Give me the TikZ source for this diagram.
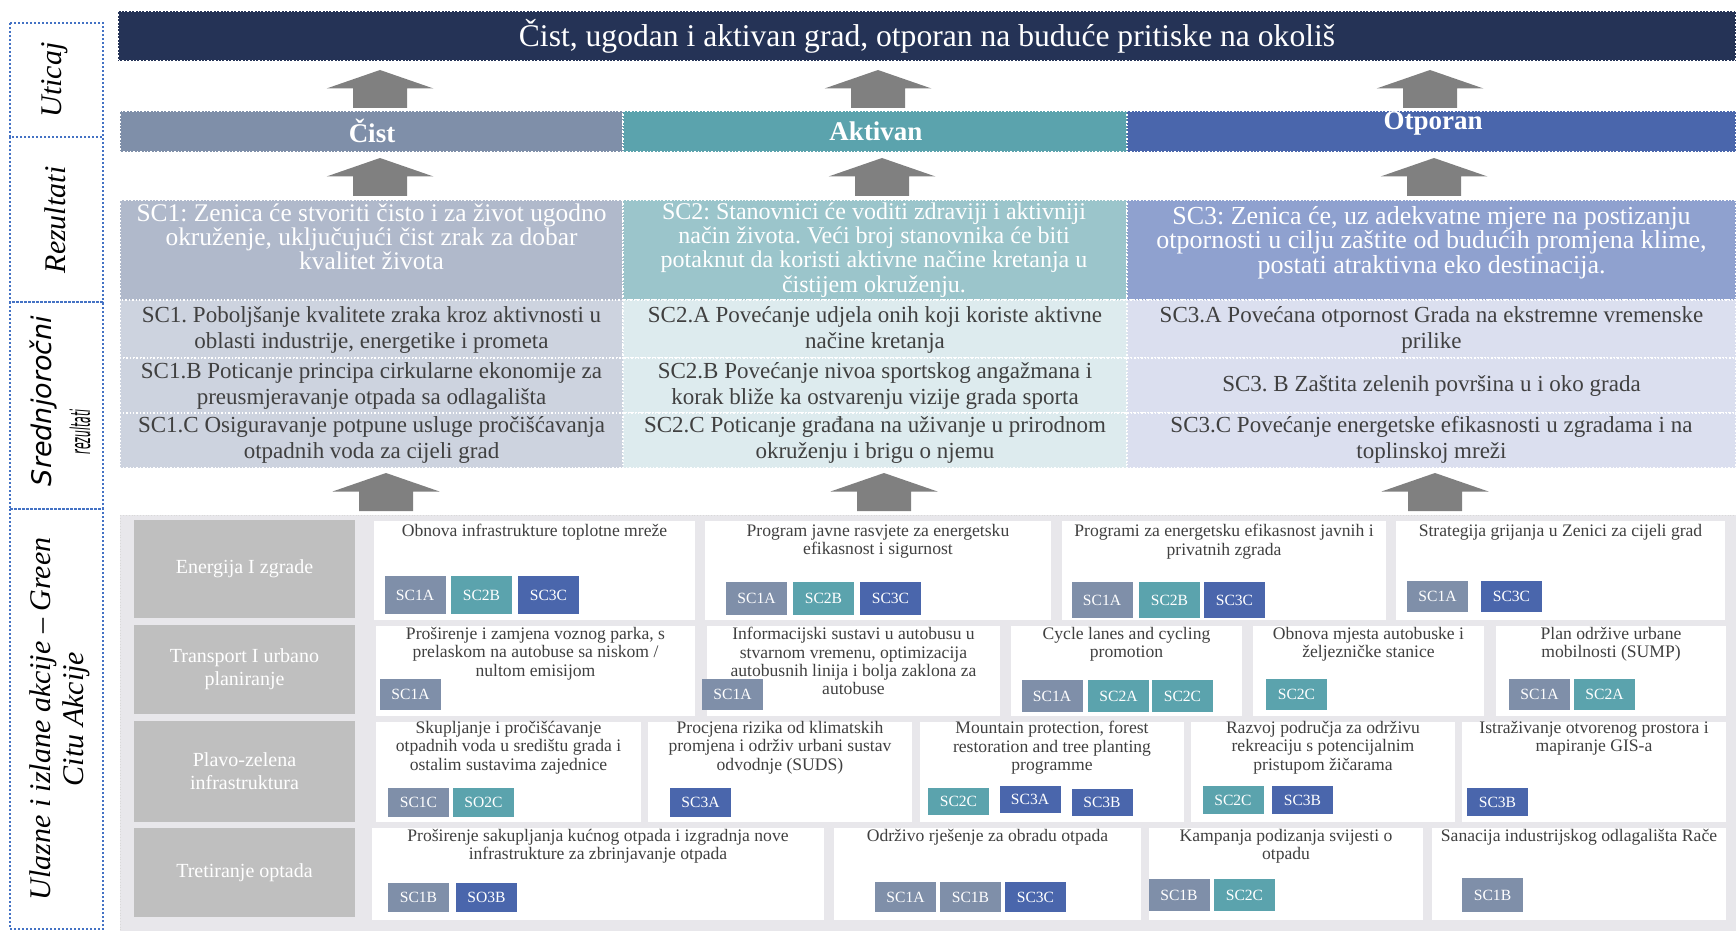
\documentclass[tikz,border=0pt]{standalone}
\usepackage{fontspec}
\setmainfont{Liberation Serif}
\newfontfamily\vsans{DejaVu Sans}
\usetikzlibrary{positioning}
\frenchspacing

\definecolor{navy}{HTML}{253356}
\definecolor{cslate}{HTML}{7F8FA9}
\definecolor{cteal}{HTML}{5BA3AD}
\definecolor{cblue}{HTML}{4A66AC}
\definecolor{gslate}{HTML}{B0B9CB}
\definecolor{gteal}{HTML}{9BC5CB}
\definecolor{gblue}{HTML}{8FA1CF}
\definecolor{mslate}{HTML}{CDD3DF}
\definecolor{mteal}{HTML}{DDEBEE}
\definecolor{mblue}{HTML}{DBDFEF}
\definecolor{arrgrey}{HTML}{808080}
\definecolor{actbg}{HTML}{E8E7EB}
\definecolor{catgrey}{HTML}{BFBFBF}
\definecolor{txtgrey}{HTML}{404040}
\definecolor{dotblue}{HTML}{4472C4}

\begin{document}
\frenchspacing
\begin{tikzpicture}[x=0.5pt,y=-0.5pt,
  barline/.style={draw=white,densely dotted,line width=0.7pt},
  sidebox/.style={draw=dotblue,densely dotted,line width=1pt},
  sidelab/.style={rotate=90,align=center,font=\fontsize{15}{16.5}\selectfont\itshape},
  hdr/.style={text=white,font=\bfseries\fontsize{13.5}{15}\selectfont},
  goaltext/.style={anchor=north,align=center,inner sep=0pt,text=white},
  midtext/.style={align=center,inner sep=0pt,text=txtgrey,font=\fontsize{11.5}{13.3}\selectfont},
  catbox/.style={fill=catgrey,text=white,align=center,inner sep=0pt,minimum width=110.5pt,font=\fontsize{10}{11.6}\selectfont},
  cardbox/.style={fill=white},
  acttext/.style={anchor=north,align=center,inner sep=0pt,text=txtgrey,font=\fontsize{8.8}{9.15}\selectfont},
  tagbox/.style={minimum width=30.5pt,minimum height=16pt,inner sep=0pt,text=white,font=\fontsize{7.8}{8}\selectfont}]
\useasboundingbox (0,0) rectangle (1736,931);

% side column
\path[sidebox] (10,23) rectangle (103,137);
\path[sidebox] (10,137) rectangle (103,302);
\path[sidebox] (10,302) rectangle (103,509);
\path[sidebox] (10,509) rectangle (103,929);
\node[sidelab] (uticaj) at (55,80) {Uticaj};
\node[sidelab] (rezult) at (55,220) {Rezultati};
\node[rotate=90,font=\vsans\itshape\fontsize{13.5}{15}\selectfont] (srednj) at (44,401) {Srednjoročni};
\node[rotate=90,xscale=0.4,font=\vsans\itshape\fontsize{13.5}{15}\selectfont] (srednj2) at (80,432) {rezultati};
\node[sidelab] (ulazne) at (60,719) {Ulazne i izlane akcije – Green\\Citu Akcije};

% impact
\path[fill=navy,barline] (118,11) rectangle (1736,61);
\node[text=white,font=\fontsize{15.8}{18}\selectfont] (title) at (927,36) {Čist, ugodan i aktivan grad, otporan na buduće pritiske na okoliš};

% arrows
\foreach \ax/\ay in {380/70,878/70,1430/70,380/158,882/158,1434/158,386/473,884/473,1435/473}
  \fill[arrgrey] (\ax,\ay) -- (\ax+53.5,\ay+18.5) -- (\ax+27,\ay+18.5) -- (\ax+27,\ay+38)
    -- (\ax-27,\ay+38) -- (\ax-27,\ay+18.5) -- (\ax-53.5,\ay+18.5) -- cycle;

% headers
\path[fill=cslate,barline] (120,111) rectangle (623,152);
\path[fill=cteal,barline] (623,111) rectangle (1127,152);
\path[fill=cblue,barline] (1127,111) rectangle (1736,152);
\node[hdr] (cist) at (372,131) {Čist};
\node[hdr] (aktivan) at (876,131) {Aktivan};
\node[hdr] (otporan) at (1433,123) {Otporan};

% results
\path[fill=gslate,barline] (120,200) rectangle (623,300);
\path[fill=gteal,barline] (623,200) rectangle (1127,300);
\path[fill=gblue,barline] (1127,200) rectangle (1736,300);
\node[goaltext,font=\fontsize{12.7}{12.2}\selectfont] (sc1) at (371.5,203) {SC1: Zenica će stvoriti čisto i za život ugodno\\okruženje, uključujući čist zrak za dobar\\kvalitet života};
\node[goaltext,font=\fontsize{12}{12.2}\selectfont] (sc2) at (874,202) {SC2: Stanovnici će voditi zdraviji i aktivniji\\način života. Veći broj stanovnika će biti\\potaknut da koristi aktivne načine kretanja u\\čistijem okruženju.};
\node[goaltext,font=\fontsize{13}{12.2}\selectfont] (sc3) at (1431.5,206) {SC3: Zenica će, uz adekvatne mjere na postizanju\\otpornosti u cilju zaštite od budućih promjena klime,\\postati atraktivna eko destinacija.};

% medium term results
\path[fill=mslate,barline] (120,300) rectangle (623,358);
\path[fill=mslate,barline] (120,358) rectangle (623,413);
\path[fill=mslate,barline] (120,413) rectangle (623,468);
\path[fill=mteal,barline] (623,300) rectangle (1127,358);
\path[fill=mteal,barline] (623,358) rectangle (1127,413);
\path[fill=mteal,barline] (623,413) rectangle (1127,468);
\path[fill=mblue,barline] (1127,300) rectangle (1736,358);
\path[fill=mblue,barline] (1127,358) rectangle (1736,413);
\path[fill=mblue,barline] (1127,413) rectangle (1736,468);
\node[midtext] (sc1a) at (371.5,330) {SC1. Poboljšanje kvalitete zraka kroz aktivnosti u\\oblasti industrije, energetike i prometa};
\node[midtext] (sc1b) at (371.5,386) {SC1.B Poticanje principa cirkularne ekonomije za\\preusmjeravanje otpada sa odlagališta};
\node[midtext] (sc1c) at (371.5,440) {SC1.C Osiguravanje potpune usluge pročišćavanja\\otpadnih voda za cijeli grad};
\node[midtext] (sc2a) at (875,330) {SC2.A Povećanje udjela onih koji koriste aktivne\\načine kretanja};
\node[midtext] (sc2b) at (875,386) {SC2.B Povećanje nivoa sportskog angažmana i\\korak bliže ka ostvarenju vizije grada sporta};
\node[midtext] (sc2c) at (875,440) {SC2.C Poticanje građana na uživanje u prirodnom\\okruženju i brigu o njemu};
\node[midtext] (sc3a) at (1431.5,330) {SC3.A Povećana otpornost Grada na ekstremne vremenske\\prilike};
\node[midtext] (sc3b) at (1431.5,386) {SC3. B Zaštita zelenih površina u i oko grada};
\node[midtext] (sc3c) at (1431.5,440) {SC3.C Povećanje energetske efikasnosti u zgradama i na\\toplinskoj mreži};

% actions
\path[fill=actbg,draw=black!15,densely dotted] (120,515) rectangle (1736,931);
\node[catbox,minimum height=49pt] (energ) at (244.5,569) {Energija I zgrade};
\node[catbox,minimum height=44.5pt] (transp) at (244.5,669.5) {Transport I urbano\\planiranje};
\node[catbox,minimum height=50.5pt] (plavo) at (244.5,771.5) {Plavo-zelena\\infrastruktura};
\node[catbox,minimum height=44.5pt] (tretir) at (244.5,872.5) {Tretiranje optada};

% row 1
\path[cardbox] (374,521) rectangle (695,620);
\path[cardbox] (705,521) rectangle (1051,620);
\path[cardbox] (1062,521) rectangle (1386,620);
\path[cardbox] (1396,521) rectangle (1725,620);
\node[acttext] (a11) at (534.5,524) {Obnova infrastrukture toplotne mreže};
\node[acttext] (a12) at (878,524) {Program javne rasvjete za energetsku\\efikasnost i sigurnost};
\node[acttext] (a13) at (1224,524) {Programi za energetsku efikasnost javnih i\\privatnih zgrada};
\node[acttext] (a14) at (1560.5,524) {Strategija grijanja u Zenici za cijeli grad};
\node[tagbox,fill=cslate,minimum height=19pt] (t11a) at (415,595) {SC1A};
\node[tagbox,fill=cteal,minimum height=19pt] (t11b) at (481.5,595) {SC2B};
\node[tagbox,fill=cblue,minimum height=19pt] (t11c) at (548.5,595) {SC3C};
\node[tagbox,fill=cslate,minimum height=16.5pt] (t12a) at (756.5,598.5) {SC1A};
\node[tagbox,fill=cteal,minimum height=16.5pt] (t12b) at (823.5,598.5) {SC2B};
\node[tagbox,fill=cblue,minimum height=16.5pt] (t12c) at (890.5,598.5) {SC3C};
\node[tagbox,fill=cslate,minimum height=18pt] (t13a) at (1102,600) {SC1A};
\node[tagbox,fill=cteal,minimum height=18pt] (t13b) at (1169.5,600) {SC2B};
\node[tagbox,fill=cblue,minimum height=18pt] (t13c) at (1234.5,600) {SC3C};
\node[tagbox,fill=cslate,minimum height=15.5pt] (t14a) at (1437.5,596.5) {SC1A};
\node[tagbox,fill=cblue,minimum height=15.5pt] (t14c) at (1511.5,596.5) {SC3C};

% row 2
\path[cardbox] (376,626) rectangle (695,716);
\path[cardbox] (707,626) rectangle (1000,716);
\path[cardbox] (1011,626) rectangle (1242,716);
\path[cardbox] (1253,626) rectangle (1484,716);
\path[cardbox] (1496,626) rectangle (1726,716);
\node[acttext] (a21) at (535.5,627) {Proširenje i zamjena voznog parka, s\\prelaskom na autobuse sa niskom /\\nultom emisijom};
\node[acttext] (a22) at (853.5,627) {Informacijski sustavi u autobusu u\\stvarnom vremenu, optimizacija\\autobusnih linija i bolja zaklona za\\autobuse};
\node[acttext] (a23) at (1126.5,627) {Cycle lanes and cycling\\promotion};
\node[acttext] (a24) at (1368.5,627) {Obnova mjesta autobuske i\\željezničke stanice};
\node[acttext] (a25) at (1611,627) {Plan održive urbane\\mobilnosti (SUMP)};
\node[tagbox,fill=cslate,minimum height=15.5pt] (t21a) at (410.5,694.5) {SC1A};
\node[tagbox,fill=cslate,minimum height=15.5pt] (t22a) at (732.5,694.5) {SC1A};
\node[tagbox,fill=cslate] (t23a) at (1052,696) {SC1A};
\node[tagbox,fill=cteal] (t23b) at (1118.5,696) {SC2A};
\node[tagbox,fill=cteal] (t23c) at (1182.5,696) {SC2C};
\node[tagbox,fill=cteal,minimum height=15.5pt] (t24a) at (1296.5,694.5) {SC2C};
\node[tagbox,fill=cslate,minimum height=15.5pt] (t25a) at (1539.5,694.5) {SC1A};
\node[tagbox,fill=cteal,minimum height=15.5pt] (t25b) at (1604.5,694.5) {SC2A};

% row 3
\path[cardbox] (376,722) rectangle (641,822);
\path[cardbox] (648,722) rectangle (912,822);
\path[cardbox] (920,722) rectangle (1184,822);
\path[cardbox] (1191,722) rectangle (1455,822);
\path[cardbox] (1462,722) rectangle (1726,822);
\node[acttext] (a31) at (508.5,721) {Skupljanje i pročišćavanje\\otpadnih voda u središtu grada i\\ostalim sustavima zajednice};
\node[acttext] (a32) at (780,721) {Procjena rizika od klimatskih\\promjena i održiv urbani sustav\\odvodnje (SUDS)};
\node[acttext] (a33) at (1052,721) {Mountain protection, forest\\restoration and tree planting\\programme};
\node[acttext] (a34) at (1323,721) {Razvoj područja za održivu\\rekreaciju s potencijalnim\\pristupom žičarama};
\node[acttext] (a35) at (1594,721) {Istraživanje otvorenog prostora i\\mapiranje GIS-a};
\node[tagbox,fill=cslate,minimum height=14.5pt] (t31a) at (418.5,802.5) {SC1C};
\node[tagbox,fill=cteal,minimum height=14.5pt] (t31b) at (483.5,802.5) {SO2C};
\node[tagbox,fill=cblue,minimum height=14.5pt] (t32a) at (700.5,802.5) {SC3A};
\node[tagbox,fill=cteal,minimum height=13.5pt] (t33a) at (958.5,801.5) {SC2C};
\node[tagbox,fill=cblue,minimum height=13.5pt] (t33b) at (1030,799.5) {SC3A};
\node[tagbox,fill=cblue,minimum height=13.5pt] (t33c) at (1102,802.5) {SC3B};
\node[tagbox,fill=cteal,minimum height=14pt] (t34a) at (1233,800) {SC2C};
\node[tagbox,fill=cblue,minimum height=14pt] (t34b) at (1302.5,800) {SC3B};
\node[tagbox,fill=cblue,minimum height=14pt] (t35a) at (1497.5,802) {SC3B};

% row 4
\path[cardbox] (372,828) rectangle (824,920);
\path[cardbox] (834,828) rectangle (1141,920);
\path[cardbox] (1149,828) rectangle (1423,920);
\path[cardbox] (1432,828) rectangle (1726,920);
\node[acttext] (a41) at (598,829) {Proširenje sakupljanja kućnog otpada i izgradnja nove\\infrastrukture za zbrinjavanje otpada};
\node[acttext] (a42) at (987.5,829) {Održivo rješenje za obradu otpada};
\node[acttext] (a43) at (1286,829) {Kampanja podizanja svijesti o\\otpadu};
\node[acttext] (a44) at (1579,829) {Sanacija industrijskog odlagališta Rače};
\node[tagbox,fill=cslate,minimum height=14.5pt] (t41a) at (418.5,897.5) {SC1B};
\node[tagbox,fill=cblue,minimum height=14.5pt] (t41b) at (486.5,897.5) {SO3B};
\node[tagbox,fill=cslate,minimum height=15pt] (t42a) at (905.5,897) {SC1A};
\node[tagbox,fill=cslate,minimum height=15pt] (t42b) at (970.5,897) {SC1B};
\node[tagbox,fill=cblue,minimum height=15pt] (t42c) at (1035.5,897) {SC3C};
\node[tagbox,fill=cslate] (t43a) at (1179,895) {SC1B};
\node[tagbox,fill=cteal] (t43b) at (1244.5,895) {SC2C};
\node[tagbox,fill=cslate,minimum height=17pt] (t44a) at (1492.5,895) {SC1B};
\end{tikzpicture}
\end{document}
